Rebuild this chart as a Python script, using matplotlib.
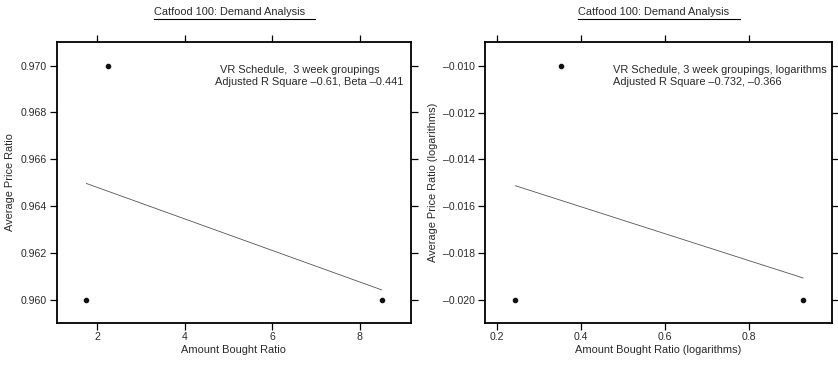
import matplotlib
matplotlib.use("Agg")
import matplotlib.pyplot as plt
from matplotlib.lines import Line2D
from matplotlib.ticker import FormatStrFormatter

plt.rcParams['font.family'] = ['Liberation Sans', 'DejaVu Sans']

# ---- data ----
title = "Catfood 100: Demand Analysis"

left_x = [1.75, 2.25, 8.5]
left_y = [0.960, 0.970, 0.960]
left_fit_x = [1.75, 8.5]
left_fit_y = [0.96497, 0.96043]
left_xticks = [2, 4, 6, 8]
left_yticks = [0.960, 0.962, 0.964, 0.966, 0.968, 0.970]
left_xlabel = "Amount Bought Ratio"
left_ylabel = "Average Price Ratio"
left_note = ["VR Schedule,  3 week groupings",
             "Adjusted R Square \u20130.61, Beta \u20130.441"]

right_x = [0.243, 0.352, 0.929]
right_y = [-0.020, -0.010, -0.020]
right_fit_x = [0.243, 0.929]
right_fit_y = [-0.01512, -0.01906]
right_xticks = [0.2, 0.4, 0.6, 0.8]
right_yticks = [-0.020, -0.018, -0.016, -0.014, -0.012, -0.010]
right_xlabel = "Amount Bought Ratio (logarithms)"
right_ylabel = "Average Price Ratio (logarithms)"
right_note = ["VR Schedule, 3 week groupings, logarithms",
              "Adjusted R Square \u20130.732, \u20130.366"]

W, H = 838, 365
fig = plt.figure(figsize=(W / 100, H / 100), dpi=100)

FS = 7.9
TFS = 7.6
TXT = '#2a2a2a'

def px_ax(l, r, t, b):
    return [l / W, 1 - b / H, (r - l) / W, (b - t) / H]

def style(ax):
    for s in ax.spines.values():
        s.set_linewidth(1.3)
        s.set_color('black')
    ax.tick_params(direction='out', length=5, width=0.9, pad=2,
                   top=True, right=True, labeltop=False, labelright=False,
                   labelsize=TFS, labelcolor=TXT, colors='black')
    for lab in ax.get_xticklabels() + ax.get_yticklabels():
        lab.set_color(TXT)

# Left panel
ax1 = fig.add_axes(px_ax(56.7, 411, 41.7, 322.7))
ax1.plot(left_x, left_y, 'o', color='#111111', markersize=3.0)
ax1.plot(left_fit_x, left_fit_y, '-', color='#555555', linewidth=0.6)
ax1.set_xlim(1.07, 9.17)
ax1.set_ylim(0.95903, 0.97102)
ax1.set_xticks(left_xticks)
ax1.set_xticklabels([str(v) for v in left_xticks])
ax1.set_yticks(left_yticks)
ax1.yaxis.set_major_formatter(FormatStrFormatter('%.3f'))
ax1.set_xlabel(left_xlabel, fontsize=FS, color=TXT, labelpad=2)
ax1.set_ylabel(left_ylabel, fontsize=FS, color=TXT, labelpad=4)
style(ax1)
fig.text(300 / W, 1 - 70 / H, left_note[0], ha='center', va='center', fontsize=FS, color=TXT)
fig.text(309 / W, 1 - 82 / H, left_note[1], ha='center', va='center', fontsize=FS, color=TXT)

# Right panel
ax2 = fig.add_axes(px_ax(485, 832.3, 41.7, 322.7))
ax2.plot(right_x, right_y, 'o', color='#111111', markersize=3.0)
ax2.plot(right_fit_x, right_fit_y, '-', color='#555555', linewidth=0.6)
ax2.set_xlim(0.1707, 0.9986)
ax2.set_ylim(-0.02097, -0.00897)
ax2.set_xticks(right_xticks)
ax2.set_xticklabels(['%.1f' % v for v in right_xticks])
ax2.set_yticks(right_yticks)
ax2.set_yticklabels(['\u2013%.3f' % abs(v) for v in right_yticks])
ax2.set_xlabel(right_xlabel, fontsize=FS, color=TXT, labelpad=2)
ax2.set_ylabel(right_ylabel, fontsize=FS, color=TXT, labelpad=4)
style(ax2)
fig.text(612.7 / W, 1 - 70 / H, right_note[0], ha='left', va='center', fontsize=FS, color=TXT)
fig.text(612.7 / W, 1 - 82 / H, right_note[1], ha='left', va='center', fontsize=FS, color=TXT)

# Titles with underline
for x0, x1 in [(154, 315), (578.3, 740)]:
    fig.text(x0 / W, 1 - 12 / H, title, ha='left', va='center', fontsize=FS, color=TXT)
    fig.add_artist(Line2D([x0 / W, x1 / W], [1 - 19 / H, 1 - 19 / H],
                          color='black', linewidth=0.8, transform=fig.transFigure))

fig.savefig('out.png', dpi=100)
